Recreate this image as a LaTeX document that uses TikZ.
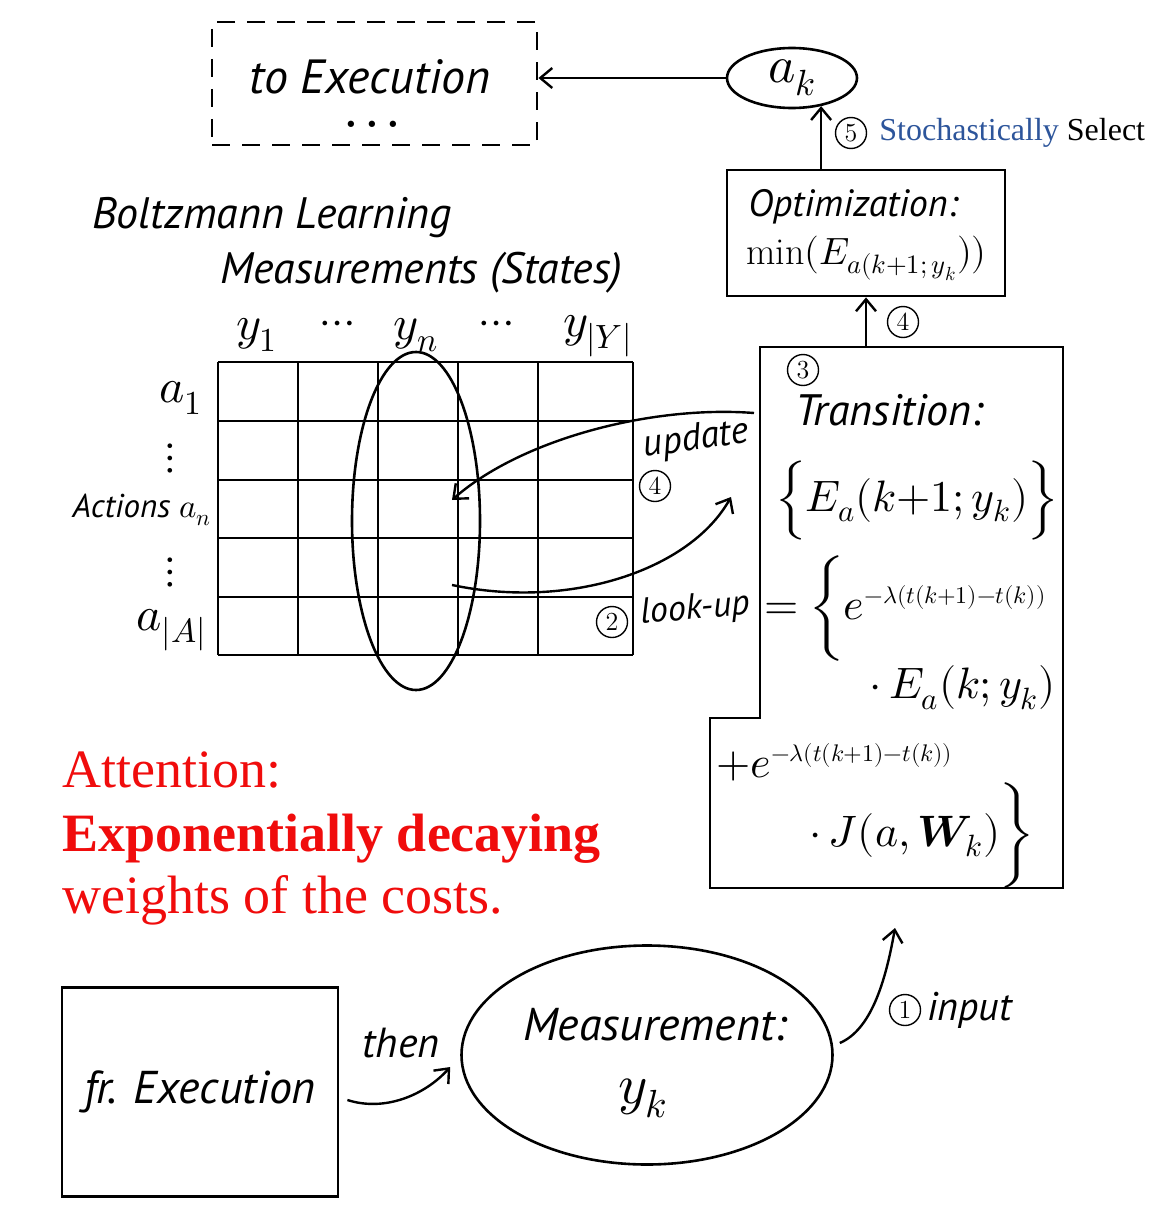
\documentclass[tikz,border=0pt]{standalone}
\usepackage{fontspec}
\usepackage{unicode-math}
\setmathfont{Latin Modern Math}
\newfontfamily\handfont{PT Sans}
\newfontfamily\seriffont{Liberation Serif}
\definecolor{alertred}{RGB}{240,12,12}
\definecolor{stochblue}{RGB}{45,85,155}
\usepackage{tikz}
\usetikzlibrary{
  shapes.geometric,
  arrows.meta,
  positioning
}
\newcommand{\decay}{e^{\hbox{\fontsize{12}{12}\selectfont$-\lambda(t(k{+}1){-}t(k))$}}}

\begin{document}
\begin{tikzpicture}[
  x=0.5pt, y=-0.5pt,
  dashbox/.style={rectangle, draw, line width=1.4pt, dash pattern=on 9pt off 6pt},
  plainbox/.style={rectangle, draw, line width=1.4pt},
  oval/.style={ellipse, draw, line width=1.3pt, inner sep=0pt},
  hand/.style={font=\handfont\itshape\fontsize{#1}{#1}\selectfont, inner sep=0pt},
  mth/.style={font=\fontsize{#1}{#1}\selectfont, inner sep=0pt},
  circnum/.style={circle, draw, line width=0.7pt, inner sep=0pt, minimum size=15.5pt, font=\fontsize{13}{13}\selectfont},
  arr/.style={-{Straight Barb[length=6pt,width=10pt]}, line width=1.2pt},
  gridline/.style={line width=0.9pt},
  alert/.style={text=alertred, font=\seriffont\fontsize{27}{27}\selectfont, anchor=base west, inner sep=0pt}
]
  \path[use as bounding box, fill=white] (0,0) rectangle (1155,1220);

  % top: execution and selected action
  \node[dashbox, minimum width=162.5pt, minimum height=61.5pt] (toexec) at (374.5,83.5) {};
  \node[hand=24, anchor=base] (toexectxt) at (370,94) {to Execution};
  \node[anchor=base, inner sep=0pt, font=\bfseries\fontsize{22}{22}\selectfont] (toexecdots) at (372,127) {.\,.\,.};
  \node[oval, minimum width=65pt, minimum height=30pt, mth=26] (ak) at (792,78) {$a_k$};
  \draw[arr] (ak.west) -- (ak.west -| toexec.east);

  % optimization
  \node[plainbox, minimum width=139pt, minimum height=63pt] (opt) at (866,233) {};
  \node[hand=19, anchor=west] (opttitle) at (748,207) {Optimization:};
  \node[mth=19, anchor=west] (optfml) at (746,258) {$\min(E_{a(k+1;\,y_k}))$};
  \draw[arr] (opt.north -| ak.-44) -- (ak.-44);
  \node[circnum] (n5) at (851,133) {5};
  \node[anchor=west, inner sep=0pt, font=\seriffont\fontsize{16}{16}\selectfont] (select) at (879,133)
    {\textcolor{stochblue}{Stochastically} Select};

  % transition
  \draw[line width=1.4pt] (760,347) -- (1063,347) -- (1063,888) -- (710,888) -- (710,718) -- (760,718) -- cycle;
  \coordinate (trtop) at (870,347);
  \coordinate (trbot) at (895,888);
  \draw[arr] (opt.south |- trtop) -- (opt.south);
  \node[circnum] (n4top) at (903,322) {4};
  \node[circnum] (n3) at (803,370) {3};
  \node[hand=22, anchor=west] (trtitle) at (795,410) {Transition:};
  \node[mth=22, anchor=west] (eq1) at (776,500) {$\Big\{E_a(k{+}1;y_k)\Big\}$};
  \node[mth=22, anchor=west] (eq2) at (764,608) {$=\bigg\{\decay$};
  \node[mth=22, anchor=east] (eq3) at (1056,688) {$\cdot\,E_a(k;y_k)$};
  \node[mth=22, anchor=west] (eq4) at (716,762) {$+\decay$};
  \node[mth=22, anchor=east] (eq5) at (1034,835) {$\cdot\,J(a,\symbfit{W}_k)\bigg\}$};

  % Boltzmann table
  \node[hand=22, anchor=west] (bltitle) at (92,218) {Boltzmann Learning};
  \node[hand=22, anchor=west] (meastitle) at (220,273) {Measurements (States)};
  \foreach \x in {218,298,378,458,538,633}
    \draw[gridline] (\x,362) -- (\x,655);
  \foreach \y in {362,421,480,538,597,655}
    \draw[gridline] (218,\y) -- (633,\y);
  \node[mth=24] (y1) at (257,335) {$y_1$};
  \node[mth=22] (hd1) at (338,328) {$\cdots$};
  \node[mth=24] (yn) at (416,335) {$y_n$};
  \node[mth=22] (hd2) at (497,328) {$\cdots$};
  \node[mth=24] (yY) at (598,336) {$y_{|Y|}$};
  \node[mth=24, anchor=east] (a1) at (203,398) {$a_1$};
  \node[mth=22] (vd1) at (170,458) {$\vdots$};
  \node[hand=16.5, anchor=east] (an) at (212,510) {Actions $a_n$};
  \node[mth=22] (vd2) at (170,572) {$\vdots$};
  \node[mth=24, anchor=east] (aA) at (207,630) {$a_{|A|}$};
  \node[oval, minimum width=64pt, minimum height=169pt] (col) at (416,521) {};

  % update / look-up
  \coordinate (updsrc) at (754,413);
  \coordinate (updtgt) at (452,500);
  \coordinate (lkpsrc) at (452,585);
  \coordinate (lkptgt) at (731,497);
  \draw[arr] (updsrc) .. controls (650,405) and (520,440) .. (updtgt);
  \draw[arr] (lkpsrc) .. controls (570,610) and (690,570) .. (lkptgt);
  \node[hand=19, rotate=8] (updlbl) at (696,440) {update};
  \node[circnum] (n4) at (655,486) {4};
  \node[circnum] (n2) at (612,622) {2};
  \node[hand=18, rotate=5] (lkplbl) at (695,610) {look-up};

  % attention note
  \node[alert] (att1) at (62,787) {Attention:};
  \node[alert, font=\seriffont\bfseries\fontsize{27}{27}\selectfont] (att2) at (62,851) {Exponentially decaying};
  \node[alert] (att3) at (62,913) {weights of the costs.};

  % bottom: execution and measurement
  \node[plainbox, minimum width=138pt, minimum height=104.5pt, hand=23] (frexec) at (200,1092) {fr. Execution};
  \node[oval, minimum width=185.5pt, minimum height=109.5pt] (meas) at (647,1055) {};
  \node[hand=23] (meastxt) at (655,1025) {Measurement:};
  \node[mth=28] (yk) at (643,1098) {$y_k$};
  \draw[arr] ([shift={(4pt,-4pt)}]frexec.east) .. controls (385,1112) and (425,1095) .. ([shift={(-5pt,-6pt)}]meas.west);
  \node[hand=21] (thenlbl) at (401,1043) {then};
  \draw[arr] ([shift={(3pt,6pt)}]meas.east) .. controls (870,1030) and (885,985) .. ([yshift=-20pt]trbot);
  \node[circnum] (n1) at (905,1010) {1};
  \node[hand=20, anchor=west] (inlbl) at (927,1010) {input};
\end{tikzpicture}
\end{document}
